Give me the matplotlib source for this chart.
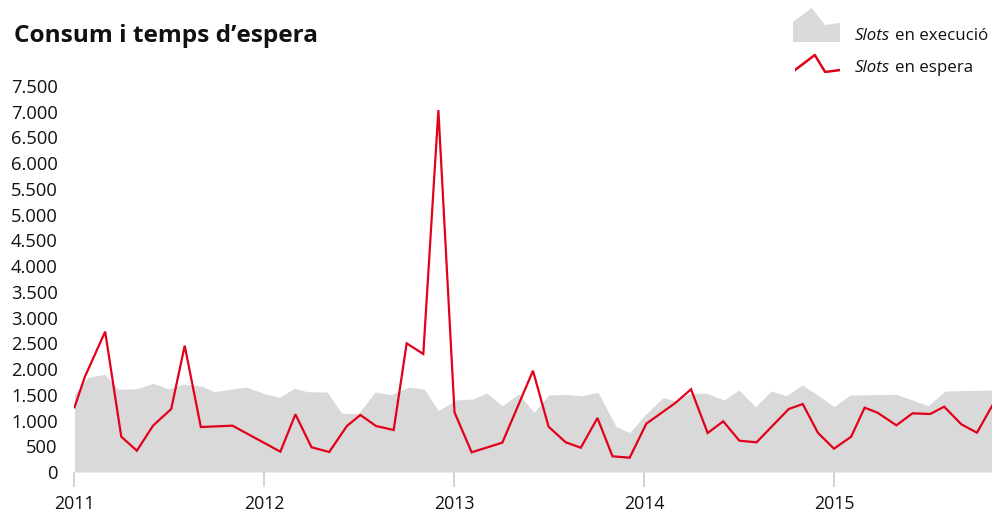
"""
Consum i temps d'espera - slots en execucio vs slots en espera
"""
import numpy as np
import pandas as pd
import matplotlib
matplotlib.use("Agg")
import matplotlib.pyplot as plt
import matplotlib.dates as mdates
from matplotlib.ticker import MultipleLocator, FixedLocator, FuncFormatter

plt.rcParams["font.family"] = ["Open Sans", "DejaVu Sans"]

# slots en execucio (area gris)
exec_dates = ["2011-01-01", "2011-01-27", "2011-02-28", "2011-03-26", "2011-05-01", "2011-06-01",
              "2011-07-01", "2011-07-29", "2011-09-04", "2011-09-27", "2011-11-27", "2012-01-04",
              "2012-01-30", "2012-02-28", "2012-03-24", "2012-05-01", "2012-05-29", "2012-07-01",
              "2012-08-01", "2012-09-01", "2012-10-06", "2012-11-04", "2012-12-01", "2013-01-03",
              "2013-02-05", "2013-03-04", "2013-04-03", "2013-05-04", "2013-06-03", "2013-07-01",
              "2013-08-03", "2013-09-04", "2013-10-04", "2013-11-08", "2013-12-04", "2014-01-01",
              "2014-02-06", "2014-03-01", "2014-04-01", "2014-05-01", "2014-06-04", "2014-07-02",
              "2014-08-03", "2014-09-02", "2014-10-01", "2014-11-01", "2014-12-01", "2015-01-01",
              "2015-02-01", "2015-05-01", "2015-07-01", "2015-08-03", "2015-11-01"]
exec_vals = [1510, 1840, 1898, 1607, 1619, 1723,
             1613, 1710, 1665, 1560, 1652, 1515,
             1451, 1626, 1560, 1554, 1140, 1140,
             1554, 1502, 1652, 1607, 1191, 1399,
             1418, 1535, 1288, 1515, 1160, 1496,
             1510, 1483, 1548, 880, 764, 1094,
             1444, 1385, 1529, 1529, 1399, 1593,
             1269, 1574, 1483, 1690, 1496, 1269,
             1496, 1510, 1288, 1574, 1593]

# slots en espera (linia vermella)
wait_dates = ["2011-01-01", "2011-01-21", "2011-03-01", "2011-04-01", "2011-05-01", "2011-06-01",
              "2011-07-06", "2011-08-01", "2011-09-01", "2011-11-01", "2012-02-01", "2012-03-01",
              "2012-04-01", "2012-05-05", "2012-06-08", "2012-07-04", "2012-08-03", "2012-09-06",
              "2012-10-01", "2012-11-02", "2012-12-01", "2013-01-01", "2013-02-03", "2013-04-03",
              "2013-06-01", "2013-07-01", "2013-08-03", "2013-09-01", "2013-10-03", "2013-11-01",
              "2013-12-04", "2014-01-05", "2014-03-01", "2014-04-01", "2014-05-03", "2014-06-02",
              "2014-07-03", "2014-08-05", "2014-10-06", "2014-11-02", "2014-12-01", "2015-01-01",
              "2015-02-03", "2015-03-01", "2015-03-26", "2015-05-01", "2015-06-01", "2015-07-05",
              "2015-08-01", "2015-09-03", "2015-10-03", "2015-11-01"]
wait_vals = [1257, 1852, 2727, 686, 414, 900,
             1224, 2455, 874, 900, 395, 1121,
             480, 389, 894, 1108, 894, 816,
             2500, 2293, 7030, 1160, 383, 570,
             1968, 880, 577, 472, 1049, 305,
             278, 939, 1335, 1607, 758, 985,
             608, 577, 1224, 1321, 764, 453,
             686, 1250, 1152, 907, 1140, 1127,
             1269, 927, 764, 1282]

x_start, x_end = "2011-01-01", "2015-11-01"
grid_levels = np.arange(500, 7501, 1000)

GREY = "#d9d9d9"
RED = "#e2001a"

ex = pd.to_datetime(exec_dates)
wx = pd.to_datetime(wait_dates)

fig = plt.figure(figsize=(9.92, 5.13), dpi=100)
ax = fig.add_axes([0.0751, 0.0799, 0.9249, 0.7525])

ax.fill_between(ex, exec_vals, 0, color=GREY, lw=0, zorder=2)
ax.plot(wx, wait_vals, color=RED, lw=1.6, zorder=3, solid_joinstyle="miter")

ax.set_xlim(pd.Timestamp(x_start), pd.Timestamp(x_end))
ax.set_ylim(0, 7500)

ax.yaxis.set_major_locator(MultipleLocator(500))
ax.yaxis.set_major_formatter(FuncFormatter(lambda v, p: f"{int(v):,}".replace(",", ".")))
ax.yaxis.set_minor_locator(FixedLocator(grid_levels))
ax.tick_params(axis="y", which="both", length=0, pad=12, labelsize=13.2, labelcolor="#111111")
ax.grid(axis="y", which="minor", color="#cccccc", lw=1.3, zorder=1)
ax.set_axisbelow(True)

ax.xaxis.set_major_locator(mdates.YearLocator())
ax.xaxis.set_major_formatter(mdates.DateFormatter("%Y"))
ax.tick_params(axis="x", length=10.5, width=1.2, color="#cccccc", pad=6,
               labelsize=12.8, labelcolor="#111111")

for s in ax.spines.values():
    s.set_visible(False)

fig.text(14 / 992, 1 - 36 / 513, "Consum i temps d\u2019espera", fontsize=17.6,
         fontweight="bold", va="center", ha="left", color="#111111")

# llegenda
icon1 = fig.add_axes([793 / 992, 1 - 42 / 513, 47 / 992, 34 / 513])
icon1.fill([0, 0, 0.4, 0.68, 1, 1], [0, 0.59, 1, 0.5, 0.56, 0], color=GREY, lw=0)
icon1.set_xlim(0, 1); icon1.set_ylim(0, 1); icon1.axis("off")

icon2 = fig.add_axes([795 / 992, 1 - 73 / 513, 45 / 992, 20 / 513])
icon2.plot([0, 0.44, 0.67, 1], [0.15, 0.9, 0.05, 0.15], color=RED, lw=1.8)
icon2.set_xlim(0, 1); icon2.set_ylim(0, 1); icon2.axis("off")

for ypix, rest in [(36, "en execuci\u00f3"), (68, "en espera")]:
    t = fig.text(855 / 992, 1 - ypix / 513, "Slots", style="italic", fontsize=12.2,
                 va="center", ha="left", color="#111111")
    ax.annotate(rest, xy=(1, 0.5), xycoords=t, xytext=(3.5, 0), textcoords="offset points",
                va="center", ha="left", fontsize=12.2, color="#111111")

fig.savefig("out.png", dpi=100)
